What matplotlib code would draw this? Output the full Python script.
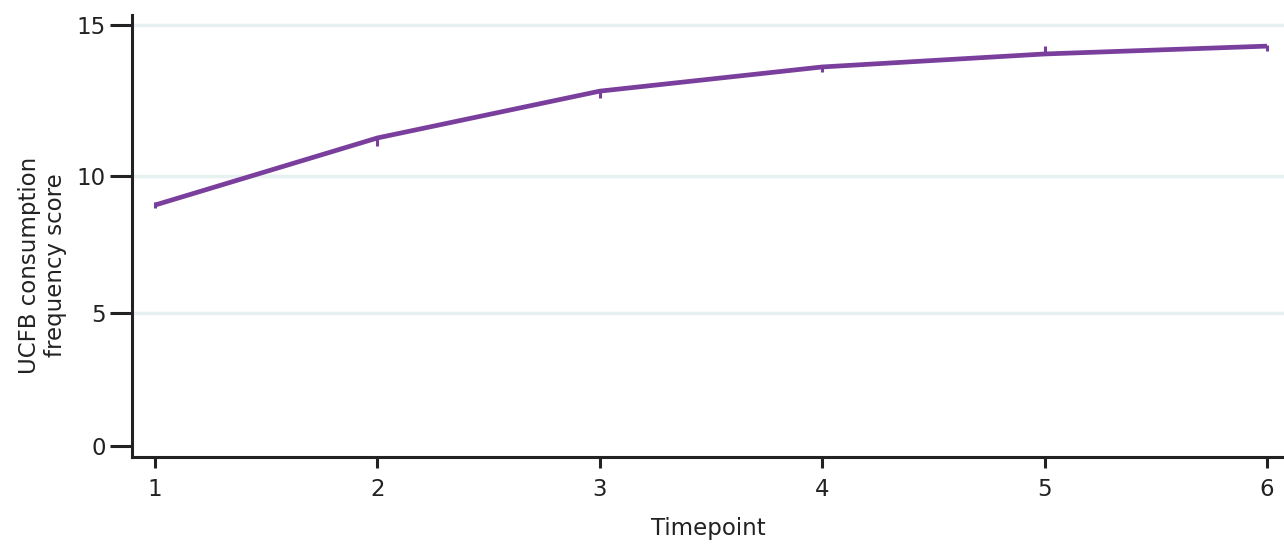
import matplotlib.pyplot as plt
import numpy as np

# data
timepoints = [1, 2, 3, 4, 5, 6]
score_mean = [8.94, 11.26, 12.81, 13.61, 14.04, 14.30]
err_low = [0.11, 0.26, 0.23, 0.17, 0.04, 0.17]
err_high = [0.10, 0.04, 0.04, 0.04, 0.25, 0.04]
yticks = [0, 5, 10, 15]

# the y axis in the reference is not evenly spaced: map tick values to their pixel spacing
knot_vals = np.array([-5, 0, 5, 10, 15, 20])
knot_pix = np.array([-133, 0, 133, 270, 421, 572])


def forward(v):
    return np.interp(v, knot_vals, knot_pix)


def inverse(p):
    return np.interp(p, knot_pix, knot_vals)


purple = '#7a3f9d'
dark = '#222222'

fig = plt.figure(figsize=(12.84, 5.44), dpi=100)
ax = fig.add_axes([132/1284, 1 - 457/544, 1 - 132/1284, (457 - 15)/544])
ax.set_yscale('function', functions=(forward, inverse))

for v in yticks[1:]:
    ax.axhline(v, color='#e8f1f1', lw=2.5, zorder=0)

ax.plot(timepoints, score_mean, color=purple, lw=3.4, solid_capstyle='butt', zorder=3)
ax.errorbar(timepoints, score_mean, yerr=[err_low, err_high], fmt='none',
            ecolor=purple, elinewidth=2.2, capsize=0, zorder=3)

ax.set_xlim(1 - 23/222.4, 6 + 17/222.4)
ax.set_ylim(-0.41, 15.33)
ax.set_xticks(timepoints)
ax.set_yticks(yticks)

for s in ['top', 'right']:
    ax.spines[s].set_visible(False)
for s in ['left', 'bottom']:
    ax.spines[s].set_color(dark)
    ax.spines[s].set_linewidth(2.2)

ax.tick_params(axis='y', length=16, width=2.2, color=dark, labelsize=16.5, labelcolor=dark, pad=3)
ax.tick_params(axis='x', length=8, width=2.2, color=dark, labelsize=16.5, labelcolor=dark, pad=7)
ax.minorticks_off()

ax.set_xlabel('Timepoint', fontsize=16.5, color=dark, labelpad=12)
ax.set_ylabel('UCFB consumption\nfrequency score', fontsize=16.5, color=dark)
ax.yaxis.set_label_coords(-0.056, 0.434)

fig.savefig('out.png', dpi=100)
